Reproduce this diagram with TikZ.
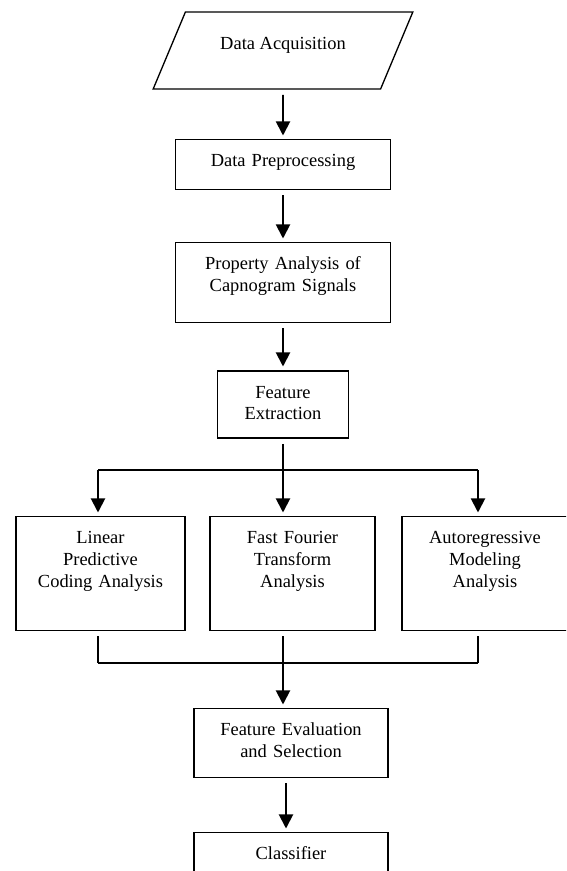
\documentclass[tikz,border=0pt]{standalone}
\usepackage{fontspec}
\setmainfont{Liberation Serif}
\usetikzlibrary{shapes.geometric, arrows.meta}

\tikzset{
    procbox/.style = {draw, line width=0.75pt, align=center, inner xsep=0pt, inner ysep=0pt, text height=15.4pt, anchor=north, font=\fontsize{10.5}{12.5}\selectfont},
    flow/.style = {line width=1.1pt, -{Triangle[length=8pt, width=8pt]}, shorten <=3pt, shorten >=2pt},
    busline/.style = {line width=0.9pt},
    stem/.style = {line width=0.6pt, shorten <=3pt}
}

\begin{document}
\begin{tikzpicture}[x=0.02cm, y=-0.02cm]
            \useasboundingbox (0, 0) rectangle (566, 871);
            \clip (0, 0) rectangle (566, 871);
            
            \coordinate (forkL) at (98, 470);
            \coordinate (fork) at (283, 470);
            \coordinate (forkR) at (478, 470);
            \coordinate (joinL) at (98, 663);
            \coordinate (join) at (283, 663);
            \coordinate (joinR) at (478, 663);
            
            \node[trapezium, trapezium left angle=59, trapezium right angle=121, trapezium stretches=true, draw, line width=0.75pt, minimum width=5.2cm, minimum height=1.54cm, text height=7pt, text depth=7.8pt, font=\fontsize{10.5}{12.5}\selectfont] (acq) at (283, 50.5) {Data Acquisition};
            
            \node[procbox, text width=4.3cm, text depth=12.95pt] (prep) at (283, 139) {Data Preprocessing};
            \node[procbox, text width=4.3cm, text depth=30pt] (prop) at (283, 242) {Property Analysis of\\Capnogram Signals};
            \node[procbox, line width=1.1pt, text width=2.62cm, text depth=22.6pt] (feat) at (283, 370) {Feature\\Extraction};
            
            \node[procbox, text width=3.38cm, text depth=49.2pt] (lpc) at (100.5, 516) {Linear\\Predictive\\Coding Analysis};
            \node[procbox, text width=3.3cm, text depth=49.2pt] (fft) at (292.5, 516) {Fast Fourier\\Transform\\Analysis};
            \node[procbox, text width=3.32cm, text depth=49.2pt] (ar) at (485, 516) {Autoregressive\\Modeling\\Analysis};
            
            \node[procbox, text width=3.88cm, text depth=23.7pt] (eval) at (291, 708) {Feature Evaluation\\and Selection};
            \node[procbox, text width=3.88cm, text depth=23.7pt] (clf) at (291, 832) {Classifier};
            
            \draw[flow] (acq.south) -- (prep.north);
            \draw[flow] (prep) -- (prop);
            \draw[flow] (prop) -- (feat);
            
            \draw[stem] (feat) -- (fork);
            \draw[busline] (forkL) -- (forkR);
            \draw[flow, shorten <=0pt] (forkL) -- (forkL |- lpc.north);
            \draw[flow, shorten <=0pt] (fork) -- (fork |- fft.north);
            \draw[flow, shorten <=0pt] (forkR) -- (forkR |- ar.north);
            
            \draw[stem] (lpc.south -| joinL) -- (joinL);
            \draw[stem] (fft.south -| join) -- (join);
            \draw[stem] (ar.south -| joinR) -- (joinR);
            \draw[busline] (joinL) -- (joinR);
            \draw[flow, shorten <=0pt] (join) -- (join |- eval.north);
            
            \draw[flow] ([xshift=-0.1cm]eval.south) -- ([xshift=-0.1cm]clf.north);
\end{tikzpicture}
\end{document}
